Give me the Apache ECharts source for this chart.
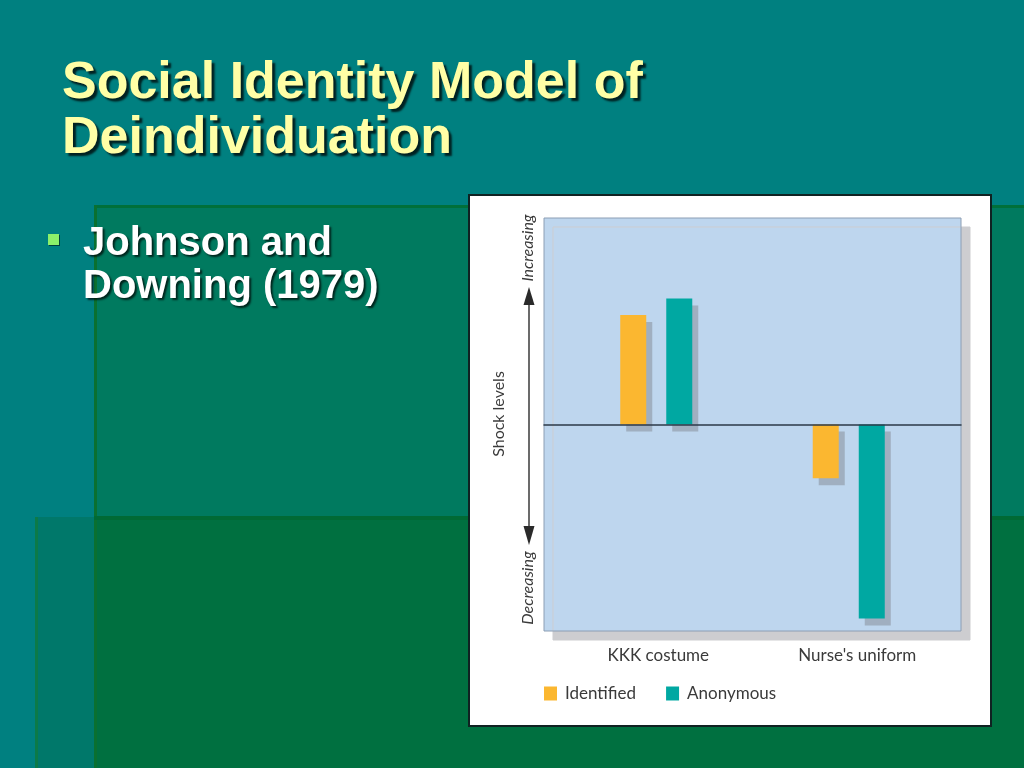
<!DOCTYPE html>
<html>
<head>
<meta charset="utf-8">
<script src="https://cdn.jsdelivr.net/npm/echarts@6/dist/echarts.min.js"></script>
<style>
html,body{margin:0;padding:0;background:#008080;}
#chart{width:1024px;height:768px;}
</style>
</head>
<body>
<div id="chart"></div>
<script>
// ---- data ----
var categories = ["KKK costume", "Nurse's uniform"];
var identified = [5.3, -2.6];
var anonymous = [6.1, -9.4];
var seriesNames = ["Identified", "Anonymous"];
var yAxisName = "Shock levels";
var upLabel = "Increasing";
var downLabel = "Decreasing";
var slideTitle = "Social Identity Model of\nDeindividuation";
var bulletText = "Johnson and\nDowning (1979)";

var chart = echarts.init(document.getElementById('chart'), null, {renderer: 'canvas'});
var chartFont = "Lato, 'Open Sans', sans-serif";

var option = {
  animation: false,
  backgroundColor: '#008080',
  title: [
    {
      text: slideTitle, left: 57, top: 51, padding: 5,
      textStyle: {
        color: '#FFFFA6', fontSize: 52, fontWeight: 'bold',
        fontFamily: "'Liberation Sans', Arial, sans-serif", lineHeight: 55,
        textShadowColor: 'rgba(0,0,0,0.75)', textShadowOffsetX: 3, textShadowOffsetY: 3, textShadowBlur: 2
      }
    },
    {
      text: bulletText, left: 78, top: 217, padding: 5,
      textStyle: {
        color: '#FFFFFF', fontSize: 40, fontWeight: 'bold',
        fontFamily: "'Liberation Sans', Arial, sans-serif", lineHeight: 43,
        textShadowColor: 'rgba(0,0,0,0.7)', textShadowOffsetX: 2, textShadowOffsetY: 2, textShadowBlur: 2
      }
    }
  ],
  graphic: [
    // slide background panels
    {type: 'rect', z: -100, shape: {x: 94, y: 205, width: 930, height: 563}, style: {fill: '#007A5F'}},
    {type: 'rect', z: -99, shape: {x: 35, y: 517, width: 59, height: 251}, style: {fill: '#00786A'}},
    {type: 'rect', z: -99, shape: {x: 94, y: 517, width: 930, height: 251}, style: {fill: '#007040'}},
    {type: 'rect', z: -98, shape: {x: 94, y: 205, width: 930, height: 3}, style: {fill: '#00703A'}},
    {type: 'rect', z: -98, shape: {x: 94, y: 205, width: 3, height: 563}, style: {fill: '#0A7030'}},
    {type: 'rect', z: -98, shape: {x: 94, y: 516, width: 930, height: 4}, style: {fill: '#006A35'}},
    {type: 'rect', z: -98, shape: {x: 35, y: 517, width: 3, height: 251}, style: {fill: '#0C7A48'}},
    // bullet
    {type: 'rect', z: 10, shape: {x: 48, y: 234, width: 11, height: 11},
      style: {fill: '#8CF06A', shadowColor: 'rgba(0,0,0,0.5)', shadowOffsetX: 1, shadowOffsetY: 1}},
    // chart white box
    {type: 'rect', z: -50, shape: {x: 469, y: 195, width: 522, height: 531},
      style: {fill: '#FFFFFF', stroke: '#102222', lineWidth: 2}},
    // axis arrow
    {type: 'line', z: 10, shape: {x1: 529, y1: 303, x2: 529, y2: 528}, style: {stroke: '#3a3a3a', lineWidth: 1.5}},
    {type: 'polygon', z: 10, shape: {points: [[529, 287], [523.5, 305], [534.5, 305]]}, style: {fill: '#2a2a2a'}},
    {type: 'polygon', z: 10, shape: {points: [[529, 545], [523.5, 526], [534.5, 526]]}, style: {fill: '#2a2a2a'}},
    {type: 'text', z: 10, x: 528, y: 248, rotation: Math.PI / 2,
      style: {text: upLabel, fill: '#3a3a3a', font: 'italic 16px ' + chartFont, align: 'center', verticalAlign: 'middle'}},
    {type: 'text', z: 10, x: 528, y: 588, rotation: Math.PI / 2,
      style: {text: downLabel, fill: '#3a3a3a', font: 'italic 16px ' + chartFont, align: 'center', verticalAlign: 'middle'}},
    {type: 'text', z: 10, x: 499, y: 414, rotation: Math.PI / 2,
      style: {text: yAxisName, fill: '#3a3a3a', font: '16px ' + chartFont, align: 'center', verticalAlign: 'middle'}}
  ],
  legend: {
    left: 539, top: 680, itemWidth: 13, itemHeight: 14, itemGap: 30, icon: 'rect',
    data: seriesNames,
    textStyle: {color: '#3a3a3a', fontSize: 17, fontFamily: chartFont, padding: [0, 0, 0, 3]}
  },
  grid: [
    { // plot background panel
      left: 544, right: 63, top: 218, bottom: 137, show: true,
      backgroundColor: '#BED6EE', borderColor: '#8C9EB4', borderWidth: 1,
      shadowColor: '#CDCDD0', shadowOffsetX: 9, shadowOffsetY: 9, shadowBlur: 0
    },
    { // bars
      left: 560, right: 79, top: 218, bottom: 137
    }
  ],
  xAxis: [
    {
      gridIndex: 0, type: 'category', data: categories, z: 5,
      axisLine: {show: true, onZero: true, lineStyle: {color: '#2C3A48', width: 1.5}},
      axisTick: {show: false}, axisLabel: {show: false}, splitLine: {show: false}
    },
    {
      gridIndex: 1, type: 'category', data: categories,
      axisLine: {show: false, onZero: false}, axisTick: {show: false}, splitLine: {show: false},
      axisLabel: {
        margin: 16, color: '#3a3a3a', fontSize: 17, fontFamily: chartFont,
        formatter: function (v, i) { return i === 0 ? '{a|' + v + '}' : '{b|' + v + '}'; },
        rich: {
          a: {padding: [0, 0, 0, 4], fontSize: 17, fontFamily: chartFont, color: '#3a3a3a'},
          b: {padding: [0, 0, 0, 17], fontSize: 17, fontFamily: chartFont, color: '#3a3a3a'}
        }
      }
    }
  ],
  yAxis: [
    {gridIndex: 0, type: 'value', min: -10, max: 10, show: false},
    {gridIndex: 1, type: 'value', min: -10, max: 10, show: false}
  ],
  series: [
    {
      name: seriesNames[0], type: 'bar', xAxisIndex: 1, yAxisIndex: 1,
      data: identified, barWidth: 26, barGap: '77%',
      itemStyle: {color: '#FBB730', borderWidth: 0,
        shadowColor: 'rgba(130,135,145,0.5)', shadowOffsetX: 6, shadowOffsetY: 7, shadowBlur: 0}
    },
    {
      name: seriesNames[1], type: 'bar', xAxisIndex: 1, yAxisIndex: 1,
      data: anonymous, barWidth: 26, barGap: '77%',
      itemStyle: {color: '#00A8A2', borderWidth: 0,
        shadowColor: 'rgba(130,135,145,0.5)', shadowOffsetX: 6, shadowOffsetY: 7, shadowBlur: 0}
    }
  ]
};
chart.setOption(option);
</script>
</body>
</html>
